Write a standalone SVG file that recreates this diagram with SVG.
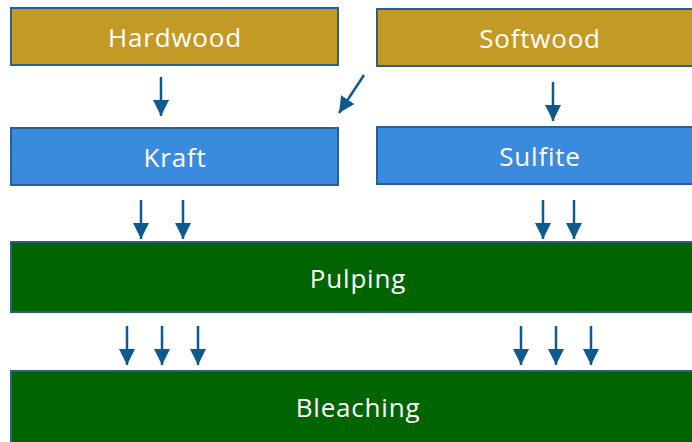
<svg xmlns="http://www.w3.org/2000/svg" width="692" height="442" viewBox="0 0 692 442">
  <style>
    .box { stroke: #2E5E8E; stroke-width: 2; }
    .wood { fill: #C49A26; }
    .proc { fill: #3A8BDD; }
    .stage { fill: #006400; }
    .label { font-family: "Open Sans", "Liberation Sans", sans-serif; font-size: 26px; letter-spacing: 0.8px; fill: #FFFFFF; text-anchor: middle; dominant-baseline: central; }
    .arrow { stroke: #0E5A8C; stroke-width: 2.5; fill: none; marker-end: url(#head); }
  </style>
  <defs>
    <marker id="head" markerUnits="userSpaceOnUse" markerWidth="16" markerHeight="16" refX="16" refY="8" orient="auto">
      <path d="M0,0 L16,8 L0,16 Z" fill="#0E5A8C"/>
    </marker>
  </defs>

  <g id="hardwood">
    <rect class="box wood" x="11" y="8" width="327" height="57"/>
    <text class="label" x="175" y="37">Hardwood</text>
  </g>
  <g id="softwood">
    <rect class="box wood" x="377" y="9" width="318" height="57"/>
    <text class="label" x="540" y="38">Softwood</text>
  </g>
  <g id="kraft">
    <rect class="box proc" x="11" y="128" width="327" height="57"/>
    <text class="label" x="175" y="157">Kraft</text>
  </g>
  <g id="sulfite">
    <rect class="box proc" x="377" y="127" width="318" height="57"/>
    <text class="label" x="540" y="156">Sulfite</text>
  </g>
  <g id="pulping">
    <rect class="box stage" x="11" y="242" width="684" height="70"/>
    <text class="label" x="358" y="278">Pulping</text>
  </g>
  <g id="bleaching">
    <rect class="box stage" x="11" y="371" width="684" height="75"/>
    <text class="label" x="358" y="407">Bleaching</text>
  </g>

  <g id="connectors">
    <line class="arrow" x1="161" y1="77" x2="161" y2="116"/>
    <line class="arrow" x1="364" y1="75" x2="339" y2="113"/>
    <line class="arrow" x1="553" y1="82" x2="553" y2="121"/>

    <line class="arrow" x1="141" y1="200" x2="141" y2="239"/>
    <line class="arrow" x1="183" y1="200" x2="183" y2="239"/>
    <line class="arrow" x1="543" y1="200" x2="543" y2="239"/>
    <line class="arrow" x1="574" y1="200" x2="574" y2="239"/>

    <line class="arrow" x1="127" y1="326" x2="127" y2="365"/>
    <line class="arrow" x1="162" y1="326" x2="162" y2="365"/>
    <line class="arrow" x1="198" y1="326" x2="198" y2="365"/>
    <line class="arrow" x1="521" y1="326" x2="521" y2="365"/>
    <line class="arrow" x1="556" y1="326" x2="556" y2="365"/>
    <line class="arrow" x1="591" y1="326" x2="591" y2="365"/>
  </g>
</svg>
